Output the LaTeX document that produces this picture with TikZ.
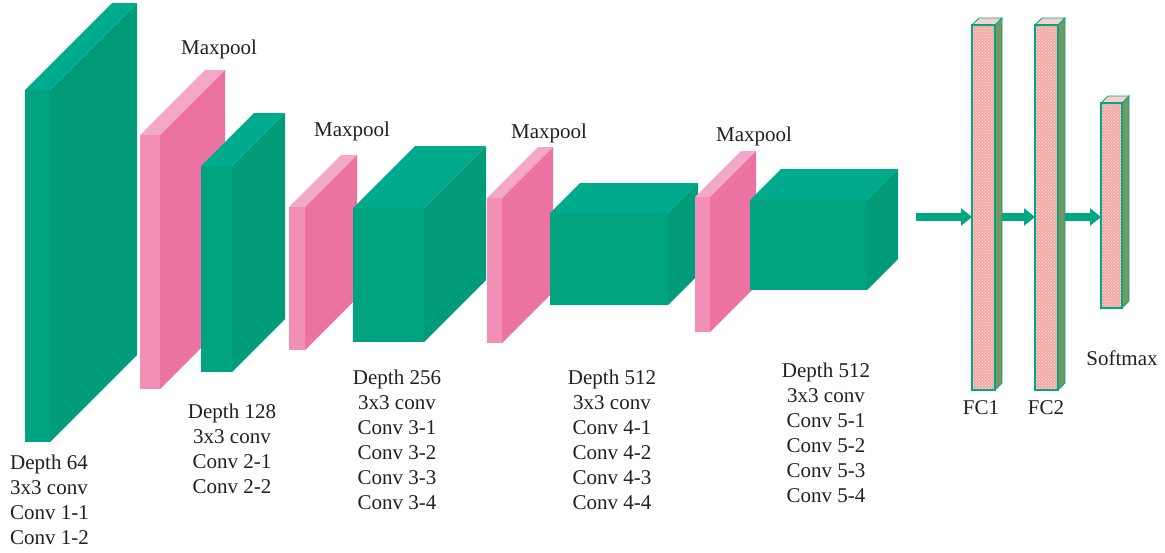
\documentclass[tikz,border=0pt]{standalone}
\usepackage{fontspec}
\setmainfont{Liberation Serif}
\usetikzlibrary{arrows.meta,patterns}

% layer colours
\definecolor{gfront}{RGB}{0,163,128}
\definecolor{gtop}{RGB}{0,171,141}
\definecolor{gside}{RGB}{0,156,122}
\definecolor{pfront}{RGB}{241,143,183}
\definecolor{ptop}{RGB}{244,168,200}
\definecolor{pside}{RGB}{236,114,161}
\definecolor{fcpink}{RGB}{244,168,162}
\definecolor{fcside}{RGB}{118,152,96}
\definecolor{fcedge}{RGB}{0,168,130}
\definecolor{txt}{RGB}{35,31,32}

% cuboid: name, x, y (top-left of front face), width, height, depth, colour prefix
\newcommand{\cuboid}[7]{%
  \fill[#7top] (#2,#3) -- ({#2+#4},#3) -- ({#2+#4+#6},{#3-#6}) -- ({#2+#6},{#3-#6}) -- cycle;
  \fill[#7side] ({#2+#4},#3) -- ({#2+#4+#6},{#3-#6}) -- ({#2+#4+#6},{#3+#5-#6}) -- ({#2+#4},{#3+#5}) -- cycle;
  \fill[#7front] (#2,#3) rectangle ({#2+#4},{#3+#5});
  \coordinate (#1) at ({#2+#4/2},{#3+#5/2});
}

% fully connected layer: name, x, y, width, height, depth
\newcommand{\fclayer}[6]{%
  \filldraw[fcside, draw=fcedge, line width=0.8pt] ({#2+#4},#3) -- ({#2+#4+#6},{#3-#6}) -- ({#2+#4+#6},{#3+#5-#6}) -- ({#2+#4},{#3+#5}) -- cycle;
  \filldraw[fcpink!55!white, draw=fcedge, line width=0.8pt] (#2,#3) -- ({#2+#4},#3) -- ({#2+#4+#6},{#3-#6}) -- ({#2+#6},{#3-#6}) -- cycle;
  \fill[fcpink] (#2,#3) rectangle ({#2+#4},{#3+#5});
  \fill[pattern=crosshatch dots, pattern color=white!80!fcpink] (#2,#3) rectangle ({#2+#4},{#3+#5});
  \draw[fcedge, line width=1.2pt] (#2,#3) rectangle ({#2+#4},{#3+#5});
  \coordinate (#1in) at (#2,217);
  \coordinate (#1out) at ({#2+#4+#6},217);
}

\tikzset{
  lbl/.style={text=txt, inner sep=0pt, align=center, font=\fontsize{21}{25}\selectfont},
  flow/.style={draw=fcedge, line width=8pt, -{Triangle[length=11pt,width=17pt]}},
}

\begin{document}
\begin{tikzpicture}[x=1pt,y=-1pt]
\useasboundingbox (0,0) rectangle (1165,552);

% convolution and pooling stages, drawn back to front
\cuboid{c1}{25}{90}{25}{352}{87}{g}
\cuboid{p1}{140}{135}{20}{254}{65}{p}
\cuboid{c2}{201}{166}{31}{206}{53}{g}
\cuboid{p2}{289}{207}{16}{143}{52}{p}
\cuboid{c3}{353}{208}{71}{134}{62}{g}
\cuboid{p3}{487}{198}{15}{145}{51}{p}
\cuboid{c4}{550}{213}{118}{92}{30}{g}
\cuboid{p4}{695}{197}{15}{135}{46}{p}
\cuboid{c5}{750}{200}{117}{90}{31}{g}

% fully connected layers
\fclayer{fca}{972}{25}{23}{365}{7}
\fclayer{fcb}{1035}{25}{23}{365}{7}
\fclayer{sm}{1101}{103}{21}{205}{7}

% data flow
\coordinate (flat) at (916,217);
\draw[flow] (flat) -- (fcain);
\draw[flow] (fcaout) -- (fcbin);
\draw[flow] (fcbout) -- (smin);

% pooling labels
\node[lbl] (mp1) at (219,49) {Maxpool};
\node[lbl] (mp2) at (352,131) {Maxpool};
\node[lbl] (mp3) at (549,133) {Maxpool};
\node[lbl] (mp4) at (754,136) {Maxpool};

% stage descriptions
\node[lbl, align=left, anchor=west] (t1) at (10,499.5) {Depth 64\\3x3 conv\\Conv 1-1\\Conv 1-2};
\node[lbl] (t2) at (232,448.5) {Depth 128\\3x3 conv\\Conv 2-1\\Conv 2-2};
\node[lbl] (t3) at (397,439.5) {Depth 256\\3x3 conv\\Conv 3-1\\Conv 3-2\\Conv 3-3\\Conv 3-4};
\node[lbl] (t4) at (612,439.5) {Depth 512\\3x3 conv\\Conv 4-1\\Conv 4-2\\Conv 4-3\\Conv 4-4};
\node[lbl] (t5) at (826,432.5) {Depth 512\\3x3 conv\\Conv 5-1\\Conv 5-2\\Conv 5-3\\Conv 5-4};

\node[lbl] (fc1) at (981,408) {FC1};
\node[lbl] (fc2) at (1046,408) {FC2};
\node[lbl] (smx) at (1122,358) {Softmax};
\end{tikzpicture}
\end{document}
